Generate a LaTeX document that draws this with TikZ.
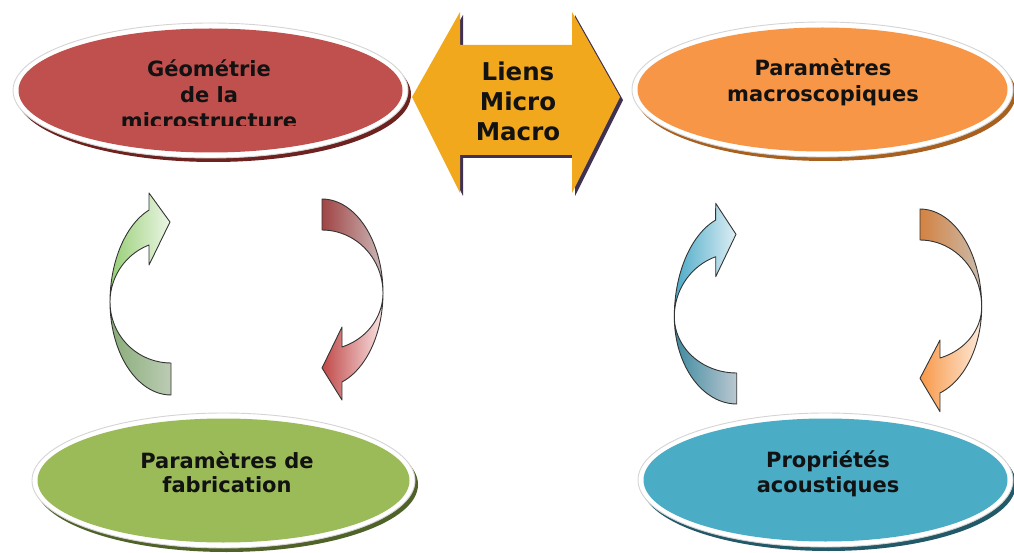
\documentclass[tikz,border=0pt]{standalone}
\usepackage{fontspec}
\setmainfont{DejaVu Sans}
\definecolor{labelink}{HTML}{121212}
\definecolor{redfill}{HTML}{C0504D}
\definecolor{redshade}{HTML}{6E2220}
\definecolor{orangefill}{HTML}{F79646}
\definecolor{orangeshade}{HTML}{A8601E}
\definecolor{greenfill}{HTML}{9BBB59}
\definecolor{greenshade}{HTML}{4F6228}
\definecolor{aquafill}{HTML}{4BACC6}
\definecolor{aquashade}{HTML}{215968}
\definecolor{goldfill}{HTML}{F2A81D}
\definecolor{goldshade}{HTML}{3F3151}
\definecolor{rimedge}{HTML}{D4D4D4}
\begin{document}
\begin{tikzpicture}[x=1pt,y=-1pt,
  lobe/.style={draw=black!80, line width=0.9pt, line join=round},
  rim/.style={fill=white, draw=rimedge, line width=0.9pt},
  lbl/.style={align=center, text=labelink, inner sep=0pt,
    font=\bfseries\fontsize{21}{26}\selectfont},
]
\useasboundingbox (0,0) rectangle (1014,553);

% ---------- ellipses: shadow, white rim, coloured face ----------
% Géométrie de la microstructure
\fill[redshade] (213.5,94.5) ellipse [x radius=197.5pt, y radius=67.5pt];
\draw[rim] (210.5,90.5) ellipse [x radius=197.5pt, y radius=67.5pt];
\fill[redfill] (210.5,90.5) ellipse [x radius=192pt, y radius=62pt];
% Paramètres macroscopiques
\fill[orangeshade] (825.5,93.5) ellipse [x radius=190.5pt, y radius=67.5pt];
\draw[rim] (822.5,89.5) ellipse [x radius=190.5pt, y radius=67.5pt];
\fill[orangefill] (822.5,89.5) ellipse [x radius=185pt, y radius=62pt];
% Paramètres de fabrication
\fill[greenshade] (226.5,484.5) ellipse [x radius=191.5pt, y radius=67.5pt];
\draw[rim] (223.5,480.5) ellipse [x radius=191.5pt, y radius=67.5pt];
\fill[greenfill] (223.5,480.5) ellipse [x radius=186pt, y radius=62pt];
% Propriétés acoustiques
\fill[aquashade] (828.5,484) ellipse [x radius=187.5pt, y radius=67pt];
\draw[rim] (825.5,480) ellipse [x radius=187.5pt, y radius=67pt];
\fill[aquafill] (825.5,480) ellipse [x radius=182pt, y radius=61.5pt];

% ---------- central double arrow ----------
\fill[goldshade] (415,100) -- (463,15) -- (463,48) -- (575,48) -- (575,15)
  -- (623,100) -- (575,196) -- (575,158) -- (463,158) -- (463,196) -- cycle;
\fill[goldfill] (412,97) -- (460,12) -- (460,45) -- (572,45) -- (572,12)
  -- (620,97) -- (572,193) -- (572,155) -- (460,155) -- (460,193) -- cycle;

% ---------- curved arrows, left pair ----------
% green, rising
\draw[lobe, left color={rgb,255:red,150;green,206;blue,116}, right color={rgb,255:red,236;green,246;blue,230}]
  (110,302) -- plot[domain=180:248.9, samples=24] ({171+61*cos(\x)},{302+98.6*sin(\x)})
  -- (149,193) -- (170,222) -- (149,265) -- (149,245)
  -- plot[domain=248.9:180, samples=24] ({171+61*cos(\x)},{302+61.1*sin(\x)}) -- cycle;
\draw[lobe, left color={rgb,255:red,136;green,172;blue,120}, right color={rgb,255:red,188;green,204;blue,180}]
  (171,363) -- (171,395)
  -- plot[domain=90:180, samples=24] ({171+61*cos(\x)},{302+93*sin(\x)})
  -- plot[domain=180:90, samples=24] ({171+61*cos(\x)},{302+61*sin(\x)}) -- cycle;
% red, descending
\draw[lobe, left color={rgb,255:red,160;green,68;blue,68}, right color={rgb,255:red,204;green,184;blue,184}]
  (322,199) -- plot[domain=270:360, samples=24] ({322+61*cos(\x)},{293+94*sin(\x)})
  -- plot[domain=360:270, samples=24] ({322+61*cos(\x)},{293+63*sin(\x)}) -- cycle;
\draw[lobe, left color={rgb,255:red,192;green,72;blue,72}, right color={rgb,255:red,250;green,228;blue,228}]
  (383,293) -- plot[domain=0:70.9, samples=24] ({322+61*cos(\x)},{293+94.2*sin(\x)})
  -- (342,400) -- (322,368) -- (342,327) -- (342,347)
  -- plot[domain=70.9:0, samples=24] ({322+61*cos(\x)},{293+57.1*sin(\x)}) -- cycle;

% ---------- curved arrows, right pair ----------
% blue, rising
\draw[lobe, left color={rgb,255:red,74;green,170;blue,200}, right color={rgb,255:red,222;green,238;blue,244}]
  (674.3,316.7) -- plot[domain=180:250.3, samples=24] ({736.7+62.4*cos(\x)},{316.7+102.7*sin(\x)})
  -- (715.7,203.3) -- (736,234.3) -- (715.7,276.7) -- (715.7,256.7)
  -- plot[domain=250.3:180, samples=24] ({736.7+62.4*cos(\x)},{316.7+63.7*sin(\x)}) -- cycle;
\draw[lobe, left color={rgb,255:red,62;green,138;blue,160}, right color={rgb,255:red,186;green,200;blue,208}]
  (736.7,373) -- (736.7,404)
  -- plot[domain=90:180, samples=24] ({736.7+62.4*cos(\x)},{316.7+87.3*sin(\x)})
  -- plot[domain=180:90, samples=24] ({736.7+62.4*cos(\x)},{316.7+56.3*sin(\x)}) -- cycle;
% orange, descending
\draw[lobe, left color={rgb,255:red,212;green,130;blue,66}, right color={rgb,255:red,202;green,188;blue,174}]
  (920,209) -- plot[domain=270:360, samples=24] ({920+61.7*cos(\x)},{306.7+97.7*sin(\x)})
  -- plot[domain=360:270, samples=24] ({920+61.7*cos(\x)},{306.7+66.7*sin(\x)}) -- cycle;
\draw[lobe, left color={rgb,255:red,248;green,152;blue,72}, right color={rgb,255:red,253;green,234;blue,218}]
  (981.7,306.7) -- plot[domain=0:71.1, samples=24] ({920+61.7*cos(\x)},{306.7+91.2*sin(\x)})
  -- (940,411.7) -- (920,378.3) -- (940,340) -- (940,358)
  -- plot[domain=71.1:0, samples=24] ({920+61.7*cos(\x)},{306.7+54.2*sin(\x)}) -- cycle;

% ---------- labels ----------
\begin{scope}
  \clip (0,0) rectangle (1014,126);
  \node[lbl] (geom) at (209,93.9) {Géométrie\\de la\\microstructure};
\end{scope}
\node[lbl] (macro) at (823,82.6) {Paramètres\\macroscopiques};
\node[lbl, font=\bfseries\fontsize{21}{23.4}\selectfont] (fab) at (227,472.2) {Paramètres de\\fabrication};
\node[lbl, font=\bfseries\fontsize{21}{25}\selectfont] (acou) at (828,473.8) {Propriétés\\acoustiques};
\node[lbl, font=\bfseries\fontsize{24.5}{30}\selectfont] (liens) at (518,101.3) {Liens\\Micro\\Macro};
\end{tikzpicture}
\end{document}
